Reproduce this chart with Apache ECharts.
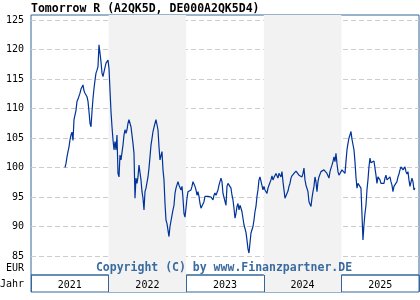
<!DOCTYPE html>
<html><head><meta charset="utf-8">
<script src="https://cdn.jsdelivr.net/npm/echarts@6/dist/echarts.min.js"></script>
<style>html,body{margin:0;padding:0;background:#fff}#c{width:420px;height:300px}</style>
</head><body><div id="c"></div>
<script>
const chartTitle = 'Tomorrow R (A2QK5D, DE000A2QK5D4)';
const copyright = 'Copyright (C) by www.Finanzpartner.DE';
const years = ['2021', '2022', '2023', '2024', '2025'];
const yTicks = [85, 90, 95, 100, 105, 110, 115, 120, 125];
const axisStart = '2021-01-01';
const axisEnd = '2026-01-01';
const firstDate = '2021-06-10';
const lastDate = '2025-12-13';
const prices = [
100.0,100.7,101.8,102.7,103.5,104.7,105.5,106.0,104.6,108.1,
108.3,109.7,111.2,111.6,111.3,112.6,113.3,113.5,114.0,113.0,
112.6,112.7,112.0,111.2,109.5,107.5,106.9,109.5,111.7,113.4,
114.8,116.0,116.5,117.1,120.8,119.4,117.9,116.0,115.4,116.2,
116.0,117.7,117.9,118.2,116.8,113.1,109.5,106.9,104.7,103.0,
104.4,103.0,105.5,99.0,98.4,102.1,101.3,101.3,103.8,105.5,
106.4,105.8,106.4,107.5,108.1,107.5,106.9,105.5,104.1,102.4,
94.8,98.2,97.3,98.4,100.4,100.2,97.9,95.9,94.8,92.8,
95.9,96.5,96.7,98.4,99.9,101.8,103.8,104.9,106.1,106.4,
107.5,108.1,107.8,106.4,103.5,101.3,101.0,102.7,99.6,97.9,
93.9,91.1,90.5,90.8,88.3,90.0,90.3,91.9,92.8,93.6,
95.6,96.5,96.2,97.6,97.0,96.7,96.2,96.8,94.8,92.2,
91.6,93.1,94.8,95.9,96.2,96.0,96.2,96.8,97.6,97.3,
96.8,96.2,95.3,95.9,95.1,93.9,93.1,92.8,93.4,94.2,
95.1,94.8,95.0,95.1,95.3,95.2,95.0,94.8,94.5,95.3,
95.7,95.3,95.1,96.2,97.0,97.6,98.2,97.6,95.6,95.9,
95.3,93.6,96.8,97.3,97.6,97.3,96.5,95.3,94.5,93.1,
91.4,92.2,93.4,93.9,92.8,93.6,93.1,92.5,91.4,90.3,
90.0,89.0,87.7,86.2,85.5,85.3,88.9,88.9,90.0,91.1,
92.5,93.4,95.1,96.2,97.9,98.4,98.5,98.6,96.2,96.8,
96.2,96.5,95.6,96.5,97.0,97.3,97.9,98.6,97.9,98.3,
98.5,99.0,99.3,98.2,99.0,99.3,98.4,99.3,97.6,96.2,
94.8,94.8,95.1,96.0,96.8,97.3,98.2,98.6,98.5,99.0,
99.0,99.4,99.6,99.2,98.7,98.4,98.7,98.4,99.0,99.9,
97.9,97.0,96.8,95.9,94.2,94.5,93.4,94.8,95.9,96.8,
98.4,97.6,95.9,97.6,98.4,98.7,99.3,99.0,99.3,99.6,
99.9,99.6,99.0,98.7,98.2,99.3,99.9,100.4,101.0,101.8,
101.0,102.4,100.7,99.3,98.7,99.0,98.7,99.6,99.3,99.9,
99.0,101.0,103.0,104.1,105.0,105.5,106.1,104.8,103.9,103.0,
101.0,98.4,96.5,97.3,97.6,97.0,96.5,96.2,87.7,90.3,
92.2,93.6,96.2,97.9,100.1,101.6,100.8,101.1,100.8,101.1,
99.9,98.7,97.3,98.4,98.7,97.9,97.3,97.6,97.0,97.3,
98.2,98.7,97.9,97.6,98.2,98.4,97.6,97.0,95.9,96.8,
97.0,97.0,97.6,98.4,98.9,99.6,100.1,100.4,99.6,99.3,
100.1,99.3,98.9,99.3,97.9,96.8,96.5,98.2,97.6,96.2,
96.5
];

const t0 = Date.parse(firstDate), t1 = Date.parse(lastDate);
const seriesData = prices.map((v, i) => [t0 + (t1 - t0) * i / (prices.length - 1), v]);

const FRAME = '#336699';
const MONO = '"DejaVu Sans Mono", monospace';
const chart = echarts.init(document.getElementById('c'), null, {renderer: 'canvas'});
chart.setOption({
  animation: false,
  backgroundColor: '#fff',
  grid: [
    {left: 31, top: 15, width: 388, height: 260, show: true, borderColor: FRAME, borderWidth: 1, backgroundColor: 'transparent'},
    {left: 31, top: 275, width: 388, height: 17, show: true, borderColor: FRAME, borderWidth: 1, backgroundColor: 'transparent'}
  ],
  xAxis: [
    {type: 'time', gridIndex: 0, min: Date.parse(axisStart), max: Date.parse(axisEnd), show: false},
    {type: 'category', gridIndex: 0, data: years, boundaryGap: true,
     axisLine: {show: false}, axisTick: {show: false}, axisLabel: {show: false}, splitLine: {show: false},
     splitArea: {show: true, interval: 0, areaStyle: {color: ['rgba(255,255,255,0)', '#f2f2f2']}}},
    {type: 'category', gridIndex: 1, data: years, boundaryGap: true,
     axisLine: {show: false}, axisTick: {show: false},
     axisLabel: {inside: true, margin: 2, interval: 0, fontSize: 10, fontFamily: MONO, color: '#000'},
     splitLine: {show: true, interval: 0, lineStyle: {color: FRAME, width: 1}},
     splitArea: {show: true, interval: 0, areaStyle: {color: ['rgba(255,255,255,0)', '#f2f2f2']}}}
  ],
  yAxis: [
    {type: 'value', gridIndex: 0, min: 81.78, max: 125.85,
     axisLine: {show: false},
     axisTick: {show: false, customValues: yTicks},
     axisLabel: {customValues: yTicks, margin: 7, fontSize: 10, fontFamily: MONO, color: '#000'},
     splitLine: {show: true, lineStyle: {color: '#cccccc', width: 1, type: [5, 3]}}},
    {type: 'value', gridIndex: 1, min: 0, max: 1, show: false}
  ],
  series: [{
    type: 'line', xAxisIndex: 0, yAxisIndex: 0, data: seriesData,
    showSymbol: false, symbol: 'none',
    lineStyle: {color: '#003399', width: 1.2}, z: 5
  }],
  graphic: [
    {type: 'text', x: 31, y: 9, style: {text: chartTitle, font: 'bold 11.5px ' + MONO, fill: '#000', verticalAlign: 'middle', align: 'left'}},
    {type: 'text', x: 24, y: 268, style: {text: 'EUR', font: '10px ' + MONO, fill: '#000', verticalAlign: 'middle', align: 'right'}},
    {type: 'text', x: 24, y: 284, style: {text: 'Jahr', font: '10px ' + MONO, fill: '#000', verticalAlign: 'middle', align: 'right'}},
    {type: 'text', x: 224, y: 268, z: 10, style: {text: copyright, font: 'bold 11.5px ' + MONO, fill: '#3a6ba0', verticalAlign: 'middle', align: 'center'}}
  ]
});
</script>
</body></html>
